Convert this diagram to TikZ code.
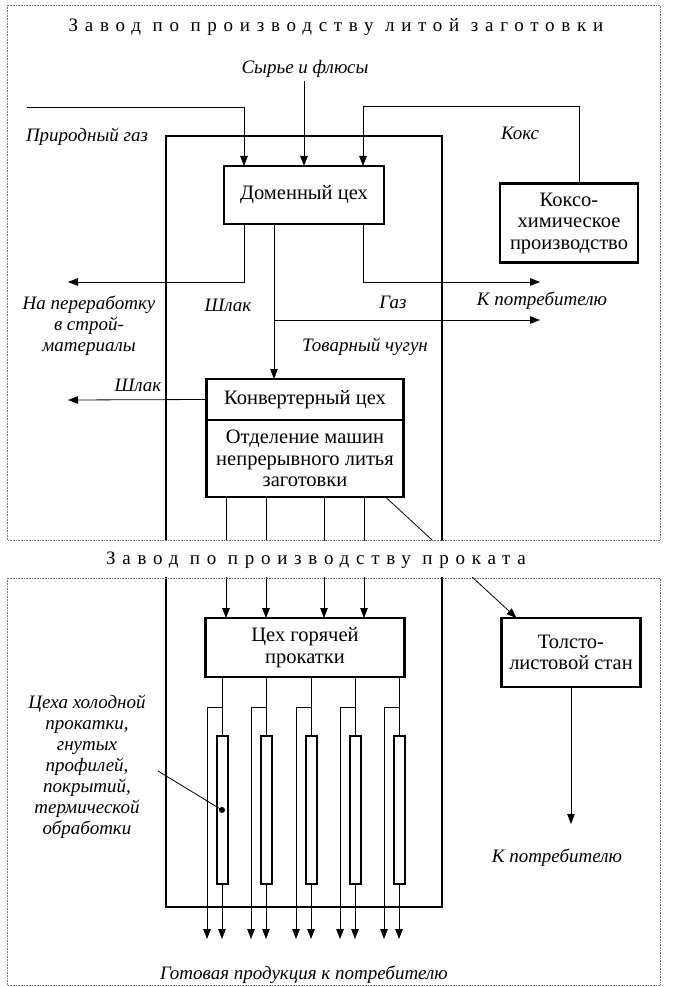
\documentclass[tikz,border=0pt]{standalone}
\usepackage{fontspec}
\setmainfont{Liberation Serif}
\newfontfamily\spaced[LetterSpace=35.5]{Liberation Serif}
\usetikzlibrary{arrows.meta,calc}

\begin{document}
\begin{tikzpicture}[x=1pt,y=-1pt,
  font=\fontsize{20.5}{21.5}\selectfont,
  box/.style={draw,line width=2.4pt,inner sep=2pt,outer sep=0pt,align=center},
  mill/.style={draw,line width=2pt,minimum width=11pt,minimum height=148pt,inner sep=0pt},
  lbl/.style={font=\fontsize{19}{21}\selectfont\itshape,align=center},
  title/.style={font=\spaced\fontsize{19}{21}\selectfont},
  flow/.style={-{Triangle[length=10pt,width=7.5pt]},line width=0.8pt},
  wire/.style={line width=0.8pt},
  frame/.style={densely dotted,line width=0.6pt,black!55}
]
\useasboundingbox (0,0) rectangle (672,987);

% shops
\node[box,minimum width=160pt,minimum height=58pt] (dom) at (304,195) {Доменный цех};
\node[box,minimum width=138pt,minimum height=79pt] (koks) at (569,223) {Коксо-\\химическое\\производство};
\node[box,minimum width=197pt,minimum height=41pt] (conv) at (305,399.5) {Конвертерный цех};
\node[box,minimum width=197pt,minimum height=77pt,anchor=north] (cast) at (conv.south) {Отделение машин\\непрерывного литья\\заготовки};
\node[box,minimum width=199pt,minimum height=59pt] (hot) at (305,647.5) {Цех горячей\\прокатки};
\node[box,minimum width=139pt,minimum height=69pt] (plate) at (571,652.5) {Толсто-\\листовой стан};

% labels
\node[lbl] (raw) at (305,69) {Сырье и флюсы};
\node[lbl] (gas) at (87,137) {Природный газ};
\node[lbl] (kokslbl) at (520,133) {Кокс};
\node[lbl] (slag1) at (228,305) {Шлак};
\node[lbl] (recyc) at (89,326) {На переработку\\в строй-\\материалы};
\node[lbl] (gaslbl) at (393,302) {Газ};
\node[lbl] (cons1) at (542,301) {К потребителю};
\node[lbl] (iron) at (365,347) {Товарный чугун};
\node[lbl] (slag2) at (138,385) {Шлак};
\node[lbl] (cold) at (87,767) {Цеха холодной\\прокатки,\\гнутых\\профилей,\\покрытий,\\термической\\обработки};
\node[lbl] (cons2) at (557,858) {К потребителю};
\node[lbl] (prod) at (304,975) {Готовая продукция к потребителю};

\coordinate (gasin) at (27,107);
\coordinate (slagout) at (68,282);
\coordinate (gasout) at (540,282);
\coordinate (ironout) at (540,320);
\coordinate (slagout2) at (68,400);
\coordinate (plateout) at (571,824);
\coordinate (out) at (0,939);
\coordinate (lead) at (158,771);

% plant boundary
\draw[line width=1.4pt] (166,136) rectangle (442,907);

% blast furnace
\draw[flow] (raw.south -| dom.north) -- (dom.north);
\draw[flow] (gasin) -| ($(dom.north)+(-60,0)$);
\draw[flow] ($(koks.north)+(10,0)$) |- ($(dom.north)+(59,-60)$) -- ($(dom.north)+(59,0)$);
\draw[flow] ($(dom.south)+(-60,0)$) |- (slagout);
\draw[flow] ($(dom.south)+(59,0)$) |- (gasout);
\draw[flow] ($(dom.south)+(-30,0)$) -- ($(conv.north)+(-31,0)$);
\draw[flow] ($(dom.south)+(-30,96)$) -- (ironout);
\draw[flow] (conv.west) -- (slagout2);

% billets
\foreach \dx in {-79,-39,19,59}
  \draw[flow] ($(cast.south)+(\dx,0)$) -- ($(hot.north)+(\dx,0)$);
\draw[flow] ($(cast.south east)+(-18,0)$) -- ($(plate.north west)+(15,0)$);
\draw[flow] (plate.south) -- (plateout);

% cold rolling
\foreach \i/\x in {1/222,2/266,3/311,4/355,5/399} {
  \node[mill] (m\i) at (\x,810) {};
  \draw[wire] (hot.south -| m\i) -- (m\i.north);
  \draw[flow] (m\i.south) -- (out -| m\i);
  \draw[flow] ($(hot.south -| m\i)+(0,30)$) -| ($(out -| m\i)+(-15,0)$);
}
\draw[wire] (lead) -- (m1.center);
\fill (m1.center) circle (3pt);

% two plants
\fill[white] (0,541) rectangle (672,577);
\draw[frame] (7,5) rectangle (660,540);
\draw[frame] (7,578) rectangle (660,985);
\node[title] (t1) at (336,27) {Завод по производству литой заготовки};
\node[title] (t2) at (316,560) {Завод по производству проката};
\end{tikzpicture}
\end{document}
